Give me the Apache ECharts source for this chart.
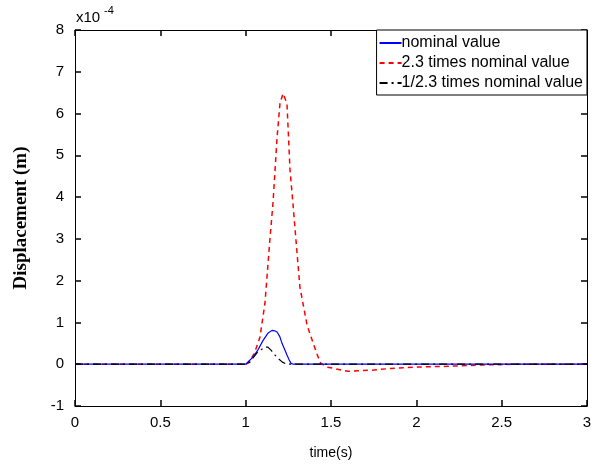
<!DOCTYPE html>
<html><head><meta charset="utf-8">
<script src="https://cdn.jsdelivr.net/npm/echarts@6/dist/echarts.min.js"></script>
<style>html,body{margin:0;padding:0;background:#fff}#c{width:606px;height:468px}</style>
</head><body><div id="c"></div>
<script>
const seriesNames = ['nominal value', '2.3 times nominal value', '1/2.3 times nominal value'];
const xTicks = [0, 0.5, 1, 1.5, 2, 2.5, 3];
const yTicks = [-1, 0, 1, 2, 3, 4, 5, 6, 7, 8];
// values in units of 1e-4 m
const nominal = [[0,0],[1.0,0],[1.008,0.02],[1.043,0.17],[1.07,0.33],[1.102,0.57],[1.13,0.74],[1.154,0.81],[1.17,0.80],[1.184,0.77],[1.2,0.66],[1.213,0.5],[1.228,0.36],[1.242,0.22],[1.255,0.1],[1.266,0.02],[1.28,0],[3,0]];
const times23 = [[0,0],[1.0,0],[1.014,0.02],[1.05,0.25],[1.084,0.65],[1.113,1.46],[1.143,3.04],[1.16,3.85],[1.184,5.43],[1.201,6.24],[1.219,6.48],[1.242,6.24],[1.26,4.64],[1.277,3.85],[1.301,2.66],[1.318,1.84],[1.36,0.93],[1.42,0.22],[1.44,0.02],[1.48,-0.07],[1.6,-0.17],[1.75,-0.14],[1.85,-0.1],[1.98,-0.07],[2.18,-0.05],[2.37,-0.02],[2.6,0],[3,0]];
const times1_23 = [[0,0],[1.0,0],[1.025,0.05],[1.07,0.29],[1.113,0.41],[1.13,0.41],[1.15,0.33],[1.172,0.22],[1.19,0.14],[1.215,0.05],[1.24,0],[3,0]];

const chart = echarts.init(document.getElementById('c'));
const axisFont = () => ({fontFamily:'Liberation Sans, Arial', fontSize:15, color:'#000'});
const tick = () => ({show:true, inside:true, length:6, lineStyle:{color:'#000', width:1.5}});
chart.setOption({
  animation:false,
  grid:{left:75, right:19, top:30, bottom:62},
  legend:{
    orient:'vertical', right:19, top:30, itemWidth:22, itemHeight:10, itemGap:4,
    padding:[5,4,4,2], borderColor:'#000', borderWidth:1, backgroundColor:'#fff',
    itemStyle:{opacity:0},
    textStyle:{fontFamily:'Liberation Sans, Arial', fontSize:16, color:'#000', padding:[0,0,0,-5]},
    data:seriesNames
  },
  xAxis:[{
    type:'value', min:0, max:3, interval:0.5, position:'bottom',
    name:'time(s)', nameLocation:'middle', nameGap:40,
    nameTextStyle:{fontFamily:'Liberation Sans, Arial', fontSize:14, color:'#000'},
    axisLine:{show:true, onZero:false, lineStyle:{color:'#000'}}, axisTick:tick(),
    axisLabel:Object.assign({margin:9}, axisFont()),
    splitLine:{show:false}
  },{
    type:'value', min:0, max:3, interval:0.5, position:'top',
    axisLine:{show:true, onZero:false, lineStyle:{color:'#000'}}, axisTick:tick(), axisLabel:{show:false}, splitLine:{show:false}
  }],
  yAxis:[{
    type:'value', min:-1, max:8, interval:1, position:'left',
    name:'Displacement (m)', nameLocation:'middle', nameGap:44,
    nameTextStyle:{fontFamily:'Liberation Serif, Times New Roman', fontWeight:'bold', fontSize:19, color:'#000'},
    axisLine:{show:true, onZero:false, lineStyle:{color:'#000'}}, axisTick:tick(),
    axisLabel:Object.assign({margin:11}, axisFont()),
    splitLine:{show:false}
  },{
    type:'value', min:-1, max:8, interval:1, position:'right',
    axisLine:{show:true, onZero:false, lineStyle:{color:'#000'}}, axisTick:tick(), axisLabel:{show:false}, splitLine:{show:false}
  }],
  graphic:[{
    type:'text', left:76, top:10,
    style:{text:'x10', fontFamily:'Liberation Sans, Arial', fontSize:15, fill:'#000'}
  },{
    type:'text', left:104, top:5,
    style:{text:'-4', fontFamily:'Liberation Sans, Arial', fontSize:11, fill:'#000'}
  }],
  series:[
    {name:seriesNames[0], type:'line', data:nominal, symbol:'none', z:3,
     lineStyle:{color:'#0000ff', width:1.2, type:'solid'}, itemStyle:{color:'#0000ff'}},
    {name:seriesNames[1], type:'line', data:times23, symbol:'none', z:2,
     lineStyle:{color:'#ff0000', width:1.5, type:[5,4]}, itemStyle:{color:'#ff0000'}},
    {name:seriesNames[2], type:'line', data:times1_23, symbol:'none', z:4,
     lineStyle:{color:'#000', width:1.2, type:[8,4,2,4]}, itemStyle:{color:'#000'}}
  ]
});
</script></body></html>
